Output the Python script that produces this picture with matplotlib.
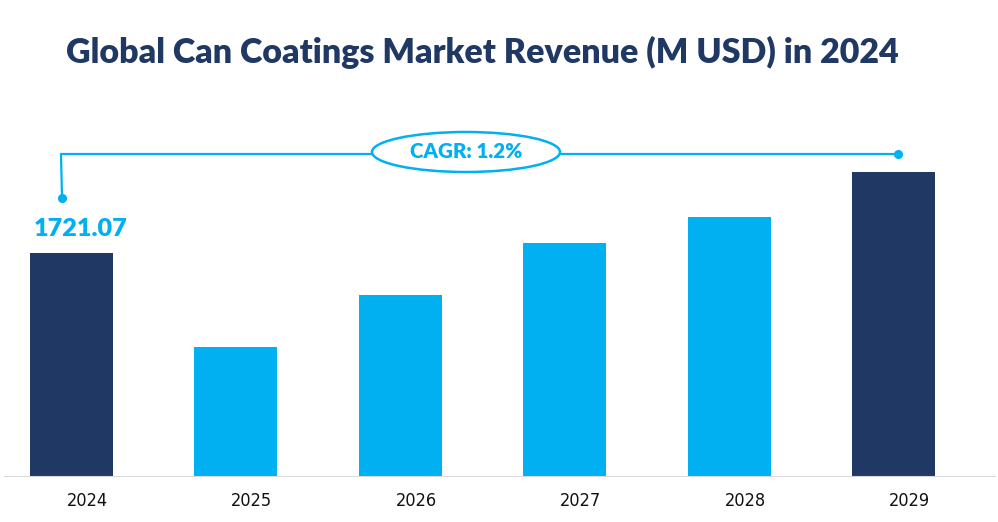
import numpy as np
import matplotlib.pyplot as plt
from matplotlib.patches import Ellipse

# datos
years = ["2024", "2025", "2026", "2027", "2028", "2029"]
revenue = [1721.07, 998.8, 1398.4, 1797.9, 1997.7, 2343.4]
cagr_label = "CAGR: 1.2%"
title = "Global Can Coatings Market Revenue (M USD) in 2024"

navy = "#1F3864"
cyan = "#00B0F0"
bar_colors = [navy, cyan, cyan, cyan, cyan, navy]

W, H = 998, 522
fig = plt.figure(figsize=(W / 100, H / 100), dpi=100)

# ejes principales: linea base en y=477 px
base_px = 477
ax = fig.add_axes([0, (H - base_px) / H, 1, base_px / H])
x = np.arange(len(years))
ax.bar(x, revenue, width=0.505, color=bar_colors)

px_per_unit = 224 / revenue[0]
ax.set_ylim(0, base_px / px_per_unit)
step = 164.4
ax.set_xlim(-71.5 / step, (W - 71.5) / step)
ax.axis("off")

# linea base gris
ax.axhline(0, xmin=5 / W, xmax=995 / W, color="#D9D9D9", lw=1.5)

# etiquetas de los años (algo corridas a la derecha, como en el original)
for xi, yr in zip(x, years):
    ax.annotate(yr, (xi, 0), xytext=(11.5, -17.5), textcoords="offset points",
                ha="center", va="center", fontsize=13,
                family="DejaVu Sans", fontstretch="condensed", color="#111111")

# valor de 2024
ax.annotate(f"{revenue[0]:.2f}", (x[0], revenue[0]), xytext=(-27, 17),
            textcoords="offset points", ha="left", va="center",
            fontsize=18.2, fontweight="heavy", family="Lato", color=cyan)

# capa superior en pixeles para la linea CAGR
ov = fig.add_axes([0, 0, 1, 1])
ov.set_xlim(0, W)
ov.set_ylim(H, 0)
ov.axis("off")
ov.plot([62, 61, 898], [198, 154, 154], color=cyan, lw=1.6)
ov.plot([62, 898], [198, 154], "o", color=cyan, ms=5.5, ls="none")
ov.add_patch(Ellipse((466, 152), 188, 40, facecolor="white", edgecolor=cyan, lw=1.8, zorder=3))
ov.text(466, 152, cagr_label, ha="center", va="center", fontsize=14.8,
        fontweight="heavy", family="Lato", color=cyan, zorder=4)

# titulo
fig.text(66 / W, 1 - 52 / H, title, ha="left", va="center", fontsize=24.5,
         fontweight="heavy", family="Lato", color=navy)

fig.savefig("out.png", dpi=100)
